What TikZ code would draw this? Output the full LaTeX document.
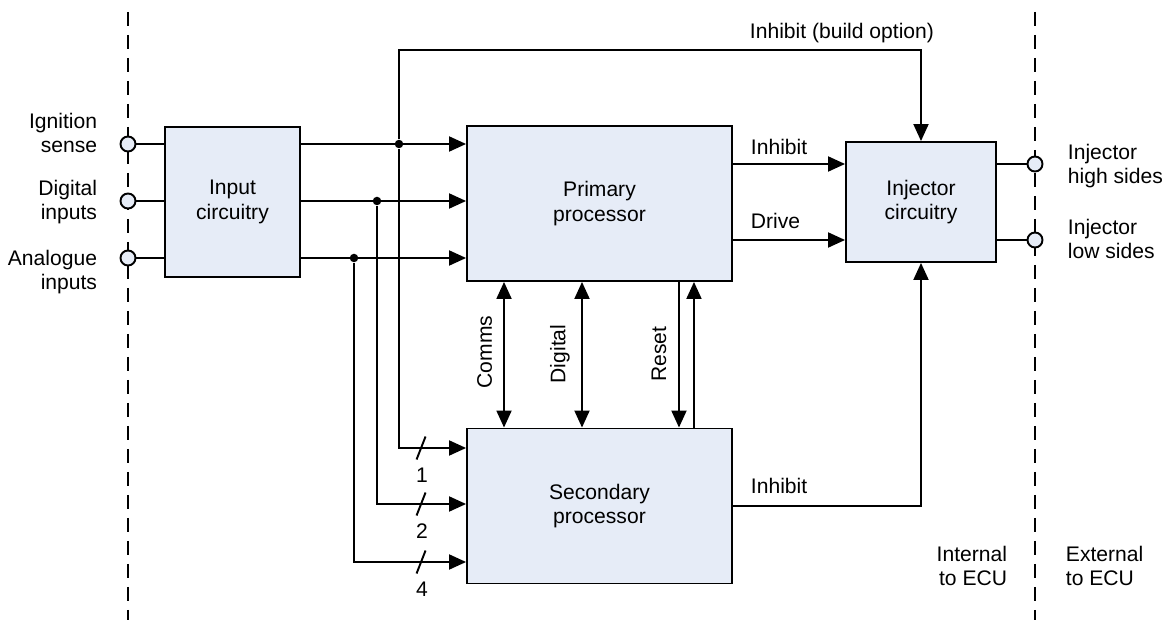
\documentclass[tikz,border=0pt]{standalone}
\usepackage{fontspec}
\setmainfont{Liberation Sans}
\usetikzlibrary{arrows.meta}
\definecolor{boxfill}{RGB}{230,236,247}

\begin{document}
\begin{tikzpicture}[x=0.02cm, y=-0.02cm, line width=1.1pt, >={Triangle[length=3.4mm, width=3mm]},
	every node/.style={font=\fontsize{12}{13.8}\selectfont, inner sep=0pt, align=center},
	box/.style={draw, fill=boxfill, minimum width=5.3cm, minimum height=3.1cm},
	term/.style={draw, circle, fill=boxfill, minimum size=3mm},
	dot/.style={circle, fill, minimum size=1.7mm},
	border/.style={line width=0.85pt, dash pattern=on 2.8mm off 1.8mm}]
	\useasboundingbox (0,0) rectangle (1164,634);
	% ECU boundary
	\draw[border] (128,12) -- (128,620);
	\draw[border] (1035,12) -- (1035,620);
	% blocks
	\node[box, minimum width=2.7cm, minimum height=3cm] (inp) at (232.5,202) {Input\\circuitry};
	\node[box] (pri) at (599.5,203.5) {Primary\\processor};
	\node[box] (sec) at (599.5,506) {Secondary\\processor};
	\node[box, minimum width=3cm, minimum height=2.4cm] (inj) at (921,202) {Injector\\circuitry};
	% terminals
	\node[term] (tig) at (128,144) {};
	\node[term] (tdi) at (128,201) {};
	\node[term] (tan) at (128,258) {};
	\node[term] (thi) at (1035,164) {};
	\node[term] (tlo) at (1035,240) {};
	\node[anchor=east, align=right] (lig) at (98,133) {Ignition\\sense};
	\node[anchor=east, align=right] (ldi) at (98,202) {Digital\\inputs};
	\node[anchor=east, align=right] (lan) at (98,272) {Analogue\\inputs};
	\node[anchor=west, align=left] (lhi) at (1067,166) {Injector\\high sides};
	\node[anchor=west, align=left] (llo) at (1067,239) {Injector\\low sides};
	\node[anchor=east, align=right] (lint) at (1008,566) {Internal\\to ECU};
	\node[anchor=west, align=left] (lext) at (1065,566) {External\\to ECU};
	% inputs
	\draw (tig) -- (inp.west |- tig);
	\draw (tdi) -- (inp.west |- tdi);
	\draw (tan) -- (inp.west |- tan);
	\node[dot] (j1) at (399,144) {};
	\node[dot] (j2) at (377,201) {};
	\node[dot] (j3) at (354,258) {};
	\draw[->] (inp.east |- j1) -- (pri.west |- j1);
	\draw[->] (inp.east |- j2) -- (pri.west |- j2);
	\draw[->] (inp.east |- j3) -- (pri.west |- j3);
	\foreach \j/\d/\n in {j1/-58/1, j2/-2/2, j3/56/4} {
		\path (sec.west) ++(0,\d) coordinate (s\n);
		\draw[->] (\j) |- (s\n);
		\draw (s\n) ++(-49.5,11.5) -- ++(9,-23);
		\path (s\n) ++(-44,27) node (n\n) {\n};
	}
	% processor links
	\draw[<->] ([xshift=-1.91cm]pri.south) -- ([xshift=-1.91cm]sec.north);
	\draw[<->] ([xshift=-0.35cm]pri.south) -- ([xshift=-0.35cm]sec.north);
	\draw[->] ([xshift=1.59cm]pri.south) -- ([xshift=1.59cm]sec.north);
	\draw[->] ([xshift=1.89cm]sec.north) -- ([xshift=1.89cm]pri.south);
	\node[rotate=90] (lcom) at (484.5,352) {Comms};
	\node[rotate=90] (ldig) at (560,354) {Digital};
	\node[rotate=90] (lres) at (659,354) {Reset};
	% injector drive
	\draw[->] (pri.east |- thi) -- (inj.west |- thi);
	\draw[->] (pri.east |- tlo) -- (inj.west |- tlo);
	\node[anchor=base west] (linh) at (750,155) {Inhibit};
	\node[anchor=base west] (ldrv) at (750,229) {Drive};
	\draw (inj.east |- thi) -- (thi);
	\draw (inj.east |- tlo) -- (tlo);
	\draw[->] (sec.east) -| (inj.south);
	\node[anchor=base west] (linh2) at (750,494) {Inhibit};
	\coordinate (bo) at (921,50);
	\draw[->] (j1) |- (bo) -- (inj.north);
	\node[anchor=base west] (lbo) at (749,39) {Inhibit (build option)};
\end{tikzpicture}
\end{document}
